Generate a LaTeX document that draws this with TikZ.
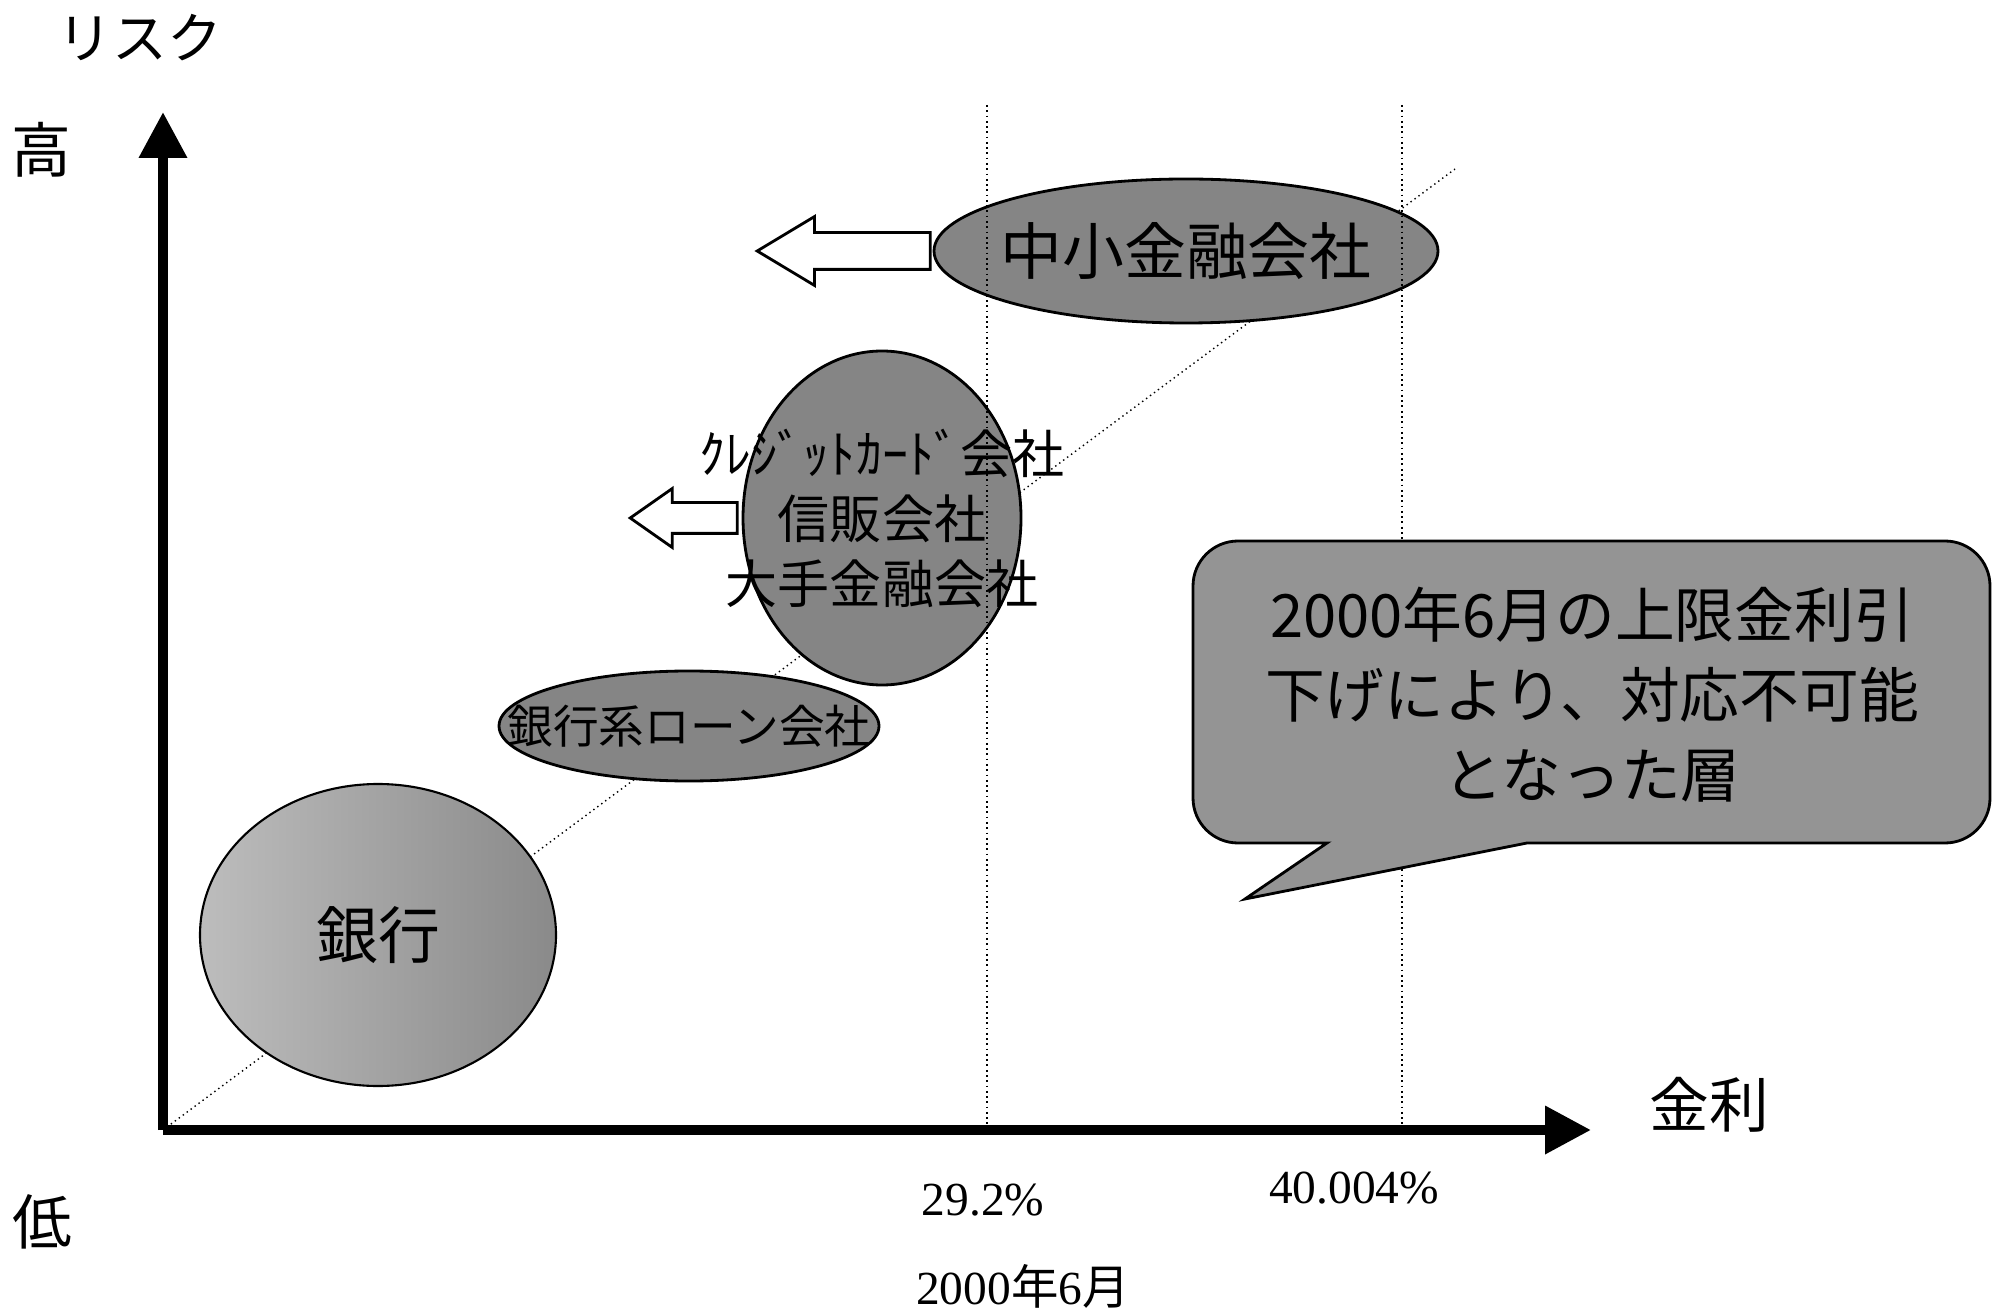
\documentclass[tikz,border=0pt]{standalone}
\usepackage{fontspec}
\setmainfont{Liberation Serif}
\newfontfamily\cjk{Noto Sans CJK JP}
\usetikzlibrary{shapes.geometric, shapes.arrows, arrows.meta}

\begin{document}
\begin{tikzpicture}[
            x=0.1mm, y=-0.1mm,
            firm/.style={ellipse, draw=black, line width=0.8pt, fill=black!48, inner sep=0pt},
            axis/.style={line width=1mm, -{Triangle[length=4.6mm, width=4.6mm]}},
            rate line/.style={densely dotted, line width=0.5pt},
            trend line/.style={densely dotted, line width=0.4pt},
            shift arrow/.style={single arrow, draw=black, line width=0.8pt, fill=white,
                shape border rotate=180, anchor=tail},
            callout/.style={draw=black, line width=0.8pt, fill=black!42},
        ]
            \useasboundingbox (0,0) rectangle (1996,1313);

            % axes and guide points
            \coordinate (O) at (163,1130);
            \coordinate (ytip) at (163,112);
            \coordinate (xtip) at (1591,1130);
            \coordinate (trend) at (1455,169);
            \coordinate (r292top) at (987,105);
            \coordinate (r292) at (987,1130);
            \coordinate (r40top) at (1402,105);
            \coordinate (r40) at (1402,1130);

            \draw[trend line] (O) -- (trend);

            % lenders
            \node[ellipse, draw=black, line width=0.6pt, shading=axis,
                left color=black!26, middle color=black!42, right color=black!46,
                minimum width=35.6mm, minimum height=30.2mm,
                label={[font=\cjk\fontsize{17.6pt}{20pt}\selectfont]center:銀行}] (bank) at (378,935) {};
            \node[firm, minimum width=38mm, minimum height=11mm,
                label={[font=\cjk\fontsize{13pt}{15pt}\selectfont]center:銀行系ローン会社}] (loan) at (689,726) {};
            \node[firm, minimum width=27.8mm, minimum height=33.4mm,
                label={[align=center, font=\cjk\fontsize{14.8pt}{18.5pt}\selectfont]center:{ｸﾚｼﾞｯﾄｶｰﾄﾞ会社\\信販会社\\大手金融会社}}] (major) at (882,518) {};
            \node[firm, minimum width=50.4mm, minimum height=14.4mm,
                label={[font=\cjk\fontsize{17.6pt}{20pt}\selectfont]center:中小金融会社}] (small) at (1186,251) {};

            \draw[rate line] (r292top) -- (r292);
            \draw[rate line] (r40top) -- (r40);

            % speech bubble
            \draw[callout] (1527,843) [rounded corners=4.5mm] -- (1990,843) -- (1990,541)
                -- (1193,541) -- (1193,843) [sharp corners] -- (1327,843) -- (1245,899) -- cycle;
            \node[align=center, font=\cjk\fontsize{17pt}{22.8pt}\selectfont] (layer) at (1592,695)
                {2000年6月の上限金利引\\下げにより、対応不可能\\となった層};

            % shift to lower rates
            \node[shift arrow, minimum height=17.3mm, inner sep=1.7mm,
                single arrow head extend=1.6mm, single arrow tip angle=62] (smallshift) at ([xshift=-0.1mm]small.west) {};
            \node[shift arrow, minimum height=10.7mm, inner sep=1.4mm,
                single arrow head extend=1.4mm, single arrow tip angle=70] (majorshift) at ([xshift=-0.3mm]major.west) {};

            \draw[axis] (O) -- (ytip);
            \draw[axis] (O) -- (xtip);

            % axis texts
            \node[font=\cjk\fontsize{15.6pt}{18pt}\selectfont] (risk) at (140,38) {リスク};
            \node[font=\cjk\fontsize{17pt}{20pt}\selectfont] (high) at (41,150) {高};
            \node[font=\cjk\fontsize{17pt}{20pt}\selectfont] (low) at (42,1222) {低};
            \node[font=\cjk\fontsize{17pt}{20pt}\selectfont] (rate) at (1709,1105) {金利};
            \node[font=\fontsize{13.5pt}{16pt}\selectfont] (p292) at (983,1200) {29.2\%};
            \node[font=\fontsize{13.5pt}{16pt}\selectfont] (p40) at (1354,1188) {40.004\%};
            \node[font=\fontsize{13.5pt}{16pt}\selectfont] (date) at (1023,1286) {2000{\cjk 年}6{\cjk 月}};
        \end{tikzpicture}
\end{document}
